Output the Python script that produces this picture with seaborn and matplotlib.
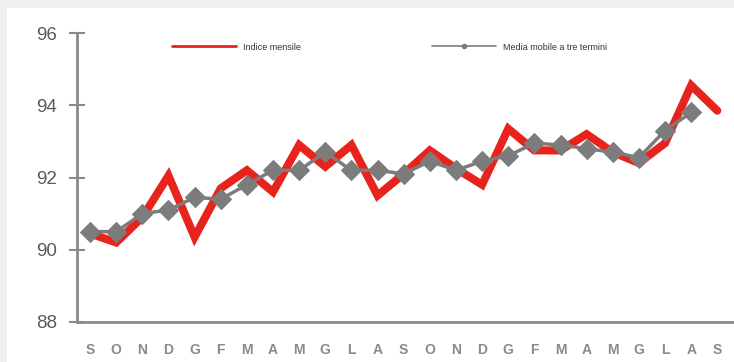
import numpy as np
import pandas as pd
import seaborn as sns
import matplotlib.pyplot as plt
from matplotlib.lines import Line2D

months = ["S", "O", "N", "D", "G", "F", "M", "A", "M", "G", "L", "A",
          "S", "O", "N", "D", "G", "F", "M", "A", "M", "G", "L", "A", "S"]
indice_mensile = [90.45, 90.2, 90.9, 92.05, 90.35, 91.7, 92.2, 91.6, 92.9, 92.3,
                  92.9, 91.5, 92.1, 92.75, 92.25, 91.8, 93.35, 92.75, 92.75, 93.2,
                  92.7, 92.4, 92.95, 94.55, 93.85]
media_mobile = [90.5, 90.5, 91.0, 91.1, 91.45, 91.4, 91.8, 92.2, 92.2, 92.7,
                92.2, 92.2, 92.1, 92.45, 92.2, 92.45, 92.6, 92.95, 92.9, 92.8,
                92.7, 92.55, 93.3, 93.8, np.nan]
y_ticks = [88, 90, 92, 94, 96]

df = pd.DataFrame({"pos": np.arange(len(months)),
                   "indice": indice_mensile,
                   "media": media_mobile})

sns.set_style("white")
plt.rcParams["font.family"] = ["Liberation Sans", "DejaVu Sans"]

fig = plt.figure(figsize=(7.34, 3.62), dpi=100, facecolor="#eef0ef")
# white panel behind the chart
fig.patches.append(plt.Rectangle((7 / 734, 0), 1, 1 - 8 / 362,
                                 transform=fig.transFigure, facecolor="white",
                                 edgecolor="none", zorder=-5))
ax = fig.add_axes([77 / 734, 1 - 322 / 362, (733 - 77) / 734, (322 - 33) / 362])
ax.set_zorder(2)
ax.set_facecolor("none")

red = "#e8231c"
grey = "#7c7c7c"

sns.lineplot(data=df, x="pos", y="indice", ax=ax, color=red, linewidth=5.8,
             solid_joinstyle="miter", zorder=2)
sns.lineplot(data=df, x="pos", y="media", ax=ax, color=grey, linewidth=2.5,
             marker="D", markersize=10.5, markeredgecolor=grey, zorder=3)

ax.set_xlim(-0.5, 24.6)
ax.set_ylim(88, 96)
ax.set_yticks(y_ticks)
ax.set_yticklabels([str(v) for v in y_ticks], fontsize=13.5, color="#5a5a5a")
ax.set_xticks(df["pos"])
ax.set_xticklabels(months, fontsize=10, fontweight="bold", color="#8a8a8a")
ax.tick_params(axis="y", direction="inout", length=11, width=1.5, color="#8a8a8a", pad=9,
               left=True)
ax.tick_params(axis="x", length=0, pad=15)
ax.set_xlabel("")
ax.set_ylabel("")
for side in ("top", "right"):
    ax.spines[side].set_visible(False)
for side in ("left", "bottom"):
    ax.spines[side].set_color("#8a8a8a")
    ax.spines[side].set_linewidth(2)

handles = [Line2D([], [], color=red, linewidth=2),
           Line2D([], [], color=grey, linewidth=1.2, marker="o", markersize=3)]
ax.legend(handles, ["Indice mensile", "Media mobile a tre termini"], ncol=2,
          loc="upper left", bbox_to_anchor=(0.133, 0.995), frameon=False,
          fontsize=6.5, handlelength=7, columnspacing=14.6, handletextpad=0.8,
          labelcolor="#333333")

fig.savefig("out.png", dpi=100, facecolor=fig.get_facecolor())
